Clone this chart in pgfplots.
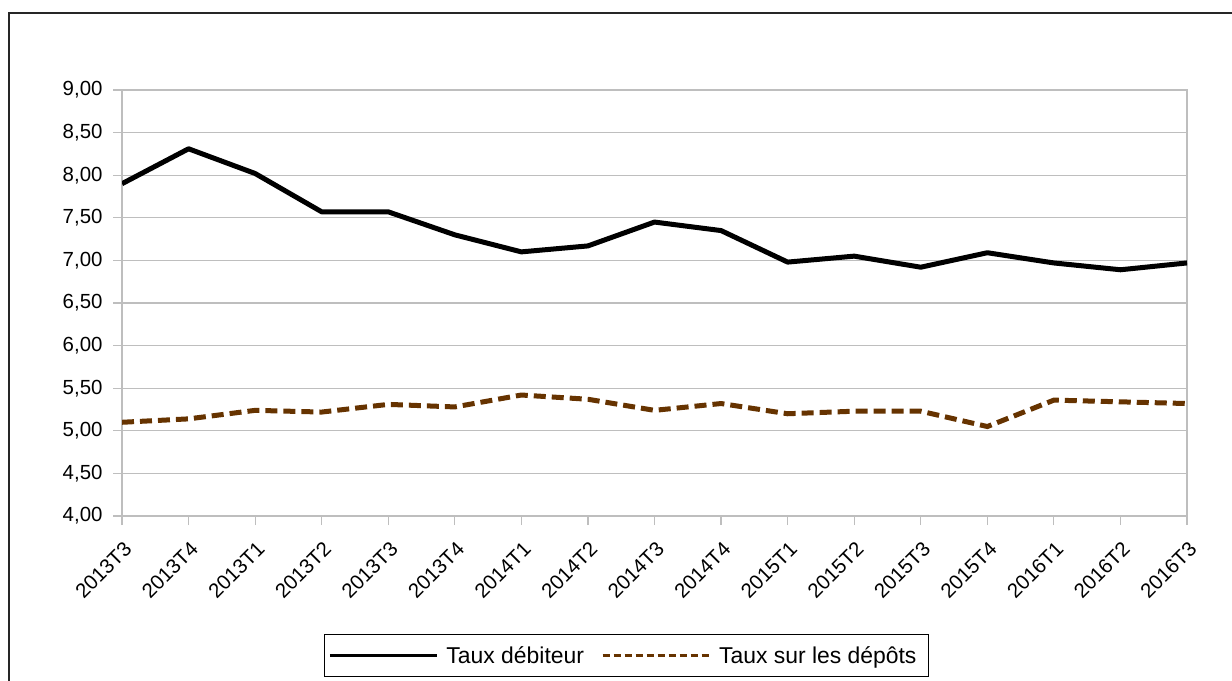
\documentclass[border=0pt]{standalone}
\usepackage{fontspec}
\setmainfont{Liberation Sans}
\usepackage{pgfplots}
\pgfplotsset{compat=1.18}
\definecolor{gridgray}{RGB}{190,190,190}
\definecolor{brownd}{RGB}{102,51,0}
\begin{document}
\begin{tikzpicture}
\useasboundingbox (0,0) rectangle (1232bp,681bp);
\draw[line width=1.2bp, black!85] (9bp,-20bp) -- (9bp,668bp) -- (1250bp,668bp);
\begin{axis}[
  at={(122bp,165bp)}, anchor=south west,
  scale only axis, width=1065bp, height=426bp,
  xmin=0, xmax=16, ymin=4, ymax=9,
  xtick={0,...,16},
  xticklabels={2013T3,2013T4,2013T1,2013T2,2013T3,2013T4,2014T1,2014T2,2014T3,2014T4,2015T1,2015T2,2015T3,2015T4,2016T1,2016T2,2016T3},
  ytick={4,4.5,5,5.5,6,6.5,7,7.5,8,8.5,9},
  yticklabels={{4,00},{4,50},{5,00},{5,50},{6,00},{6,50},{7,00},{7,50},{8,00},{8,50},{9,00}},
  xtick pos=left, ytick pos=left,
  tick align=outside, major tick length=9bp,
  tick style={gridgray, line width=1.2bp},
  axis line style={gridgray, line width=1.2bp},
  ymajorgrids, major grid style={gridgray, line width=1.2bp},
  ticklabel style={font=\fontsize{20.5}{24}\selectfont},
  yticklabel style={xshift=-7bp},
  xticklabel style={rotate=45, anchor=north east, inner sep=2bp, yshift=-9bp, xshift=-8bp},
  legend columns=2,
  legend style={at={(axis description cs:0.4737,-0.3275)}, anchor=center,
    draw=black, line width=1bp, font=\fontsize{23}{27}\selectfont,
    inner xsep=4bp, inner ysep=9bp,
    nodes={inner xsep=8bp, inner ysep=3bp},
    /tikz/every even column/.append style={column sep=9bp}},
]
\addplot[black, line width=5bp, line join=round,
  legend image code/.code={\draw[black, line width=3bp] (0bp,0bp) -- (107bp,0bp);}]
  coordinates {(0,7.90) (1,8.31) (2,8.02) (3,7.57) (4,7.57) (5,7.30) (6,7.10) (7,7.17) (8,7.45) (9,7.35) (10,6.98) (11,7.05) (12,6.92) (13,7.09) (14,6.97) (15,6.89) (16,6.97)};
\addlegendentry{Taux débiteur}
\addplot[brownd, line width=5bp, dash pattern=on 12bp off 6bp,
  legend image code/.code={\draw[brownd, line width=3bp, dash pattern=on 7bp off 4bp] (0bp,0bp) -- (107bp,0bp);}]
  coordinates {(0,5.10) (1,5.14) (2,5.24) (3,5.22) (4,5.31) (5,5.28) (6,5.42) (7,5.37) (8,5.24) (9,5.32) (10,5.20) (11,5.23) (12,5.23) (13,5.05) (14,5.36) (15,5.34) (16,5.32)};
\addlegendentry{Taux sur les dépôts}
\end{axis}
\end{tikzpicture}
\end{document}
